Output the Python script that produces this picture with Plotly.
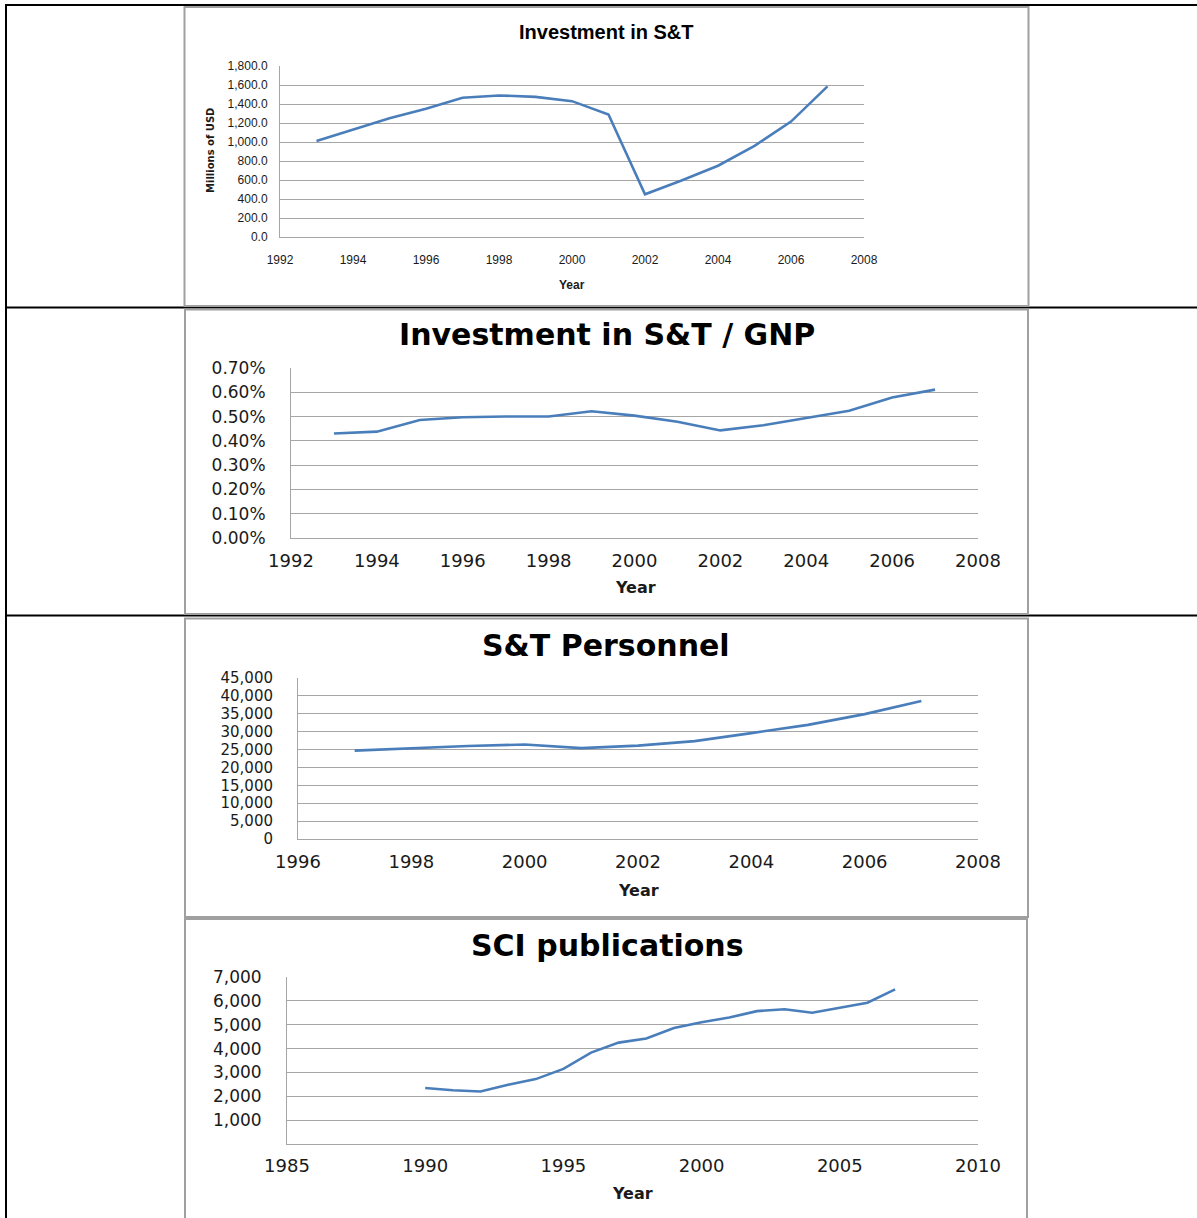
import plotly.graph_objects as go

# ---- data ----
invest_years = list(range(1993, 2008))
invest_musd = [1010, 1130, 1250, 1350, 1465, 1490, 1475, 1430, 1290, 450, 595, 750, 960, 1215, 1585]

gnp_years = list(range(1993, 2008))
gnp_share_pct = [0.430, 0.438, 0.486, 0.497, 0.500, 0.500, 0.522, 0.504, 0.479, 0.443, 0.464, 0.493, 0.524, 0.579, 0.611]

staff_years = list(range(1997, 2008))
staff_count = [24700, 25400, 26000, 26400, 25400, 26100, 27350, 29600, 31900, 34900, 38600]

sci_years = list(range(1990, 2008))
sci_papers = [2350, 2250, 2200, 2480, 2720, 3150, 3830, 4250, 4420, 4860, 5100, 5300, 5570, 5650, 5500, 5700, 5920, 6480]

chart_titles = ["Investment in S&T", "Investment in S&T / GNP", "S&T Personnel", "SCI publications"]
x_title = "Year"
y_title_first = "Millions of USD"

# ---- page geometry (pixels) ----
W, H = 1197, 1218
LINE_BLUE = "#4a7ebb"
GRID = "#a6a6a6"
BOX = "#a0a0a0"
WIDE_FONT = "DejaVu Sans"
NARROW_FONT = "Liberation Sans Narrow, Liberation Sans, Arial, sans-serif"


def px_x(x):
    return x / W


def px_y(y):
    return 1 - y / H


fig = go.Figure()

# plot areas: (left, right, top, bottom) in page pixels
areas = [
    (280, 864, 66, 237),
    (291, 978, 368, 538),
    (298, 978, 678, 839),
    (287, 978, 977, 1144),
]

series = [
    (invest_years, invest_musd),
    (gnp_years, gnp_share_pct),
    (staff_years, staff_count),
    (sci_years, sci_papers),
]

for i, (xs, ys) in enumerate(series):
    sfx = "" if i == 0 else str(i + 1)
    fig.add_trace(go.Scatter(
        x=xs, y=ys, mode="lines",
        line=dict(color=LINE_BLUE, width=2.6),
        xaxis="x" + sfx, yaxis="y" + sfx,
        showlegend=False, hoverinfo="x+y",
    ))

# per-chart axis settings; font sizes and label offsets tuned per panel
axis_specs = [
    dict(xr=[1992, 2008], xd=2, yr=[0, 1800], yd=200, yfmt=",.1f", ysuf="", yvals=None,
         xfs=12, yfs=12, xlen=12, ylen=9),
    dict(xr=[1992, 2008], xd=2, yr=[0, 0.7], yd=0.1, yfmt=".2f", ysuf="%", yvals=None,
         xfs=18, yfs=17, xlen=6, ylen=21),
    dict(xr=[1996, 2008], xd=2, yr=[0, 45000], yd=5000, yfmt=",d", ysuf="", yvals=None,
         xfs=18, yfs=15, xlen=6, ylen=21),
    dict(xr=[1985, 2010], xd=5, yr=[0, 7000], yd=1000, yfmt=",d", ysuf="",
         yvals=[1000, 2000, 3000, 4000, 5000, 6000, 7000],
         xfs=18, yfs=17, xlen=5, ylen=21),
]

layout = {}
for i, (spec, (l, r, t, b)) in enumerate(zip(axis_specs, areas)):
    sfx = "" if i == 0 else str(i + 1)
    fam = NARROW_FONT if i == 0 else WIDE_FONT
    layout["xaxis" + sfx] = dict(
        domain=[px_x(l), px_x(r)], anchor="y" + sfx,
        range=spec["xr"], dtick=spec["xd"], tick0=spec["xr"][0],
        showgrid=False, zeroline=False,
        showline=True, linecolor=GRID, linewidth=1,
        ticks="outside", ticklen=spec["xlen"], tickcolor="rgba(0,0,0,0)",
        tickfont=dict(family=fam, size=spec["xfs"], color="#1a1a1a"),
        fixedrange=True, automargin=False,
    )
    ya = dict(
        domain=[px_y(b), px_y(t)], anchor="x" + sfx,
        range=spec["yr"], tickformat=spec["yfmt"], ticksuffix=spec["ysuf"],
        showgrid=True, gridcolor=GRID, gridwidth=1, zeroline=False,
        showline=True, linecolor=GRID, linewidth=1,
        ticks="outside", ticklen=spec["ylen"], tickcolor="rgba(0,0,0,0)",
        tickfont=dict(family=fam, size=spec["yfs"], color="#1a1a1a"),
        fixedrange=True, automargin=False,
    )
    if spec["yvals"] is not None:
        ya["tickvals"] = spec["yvals"]
    else:
        ya["dtick"] = spec["yd"]
        ya["tick0"] = 0
    layout["yaxis" + sfx] = ya

shapes = []
# table rules (black)
for (x0, y0, x1, y1) in [(5, 5, W, 5), (6, 5, 6, H), (6, 307.5, W, 307.5), (6, 615.5, W, 615.5)]:
    shapes.append(dict(type="line", xref="paper", yref="paper",
                       x0=px_x(x0), y0=px_y(y0), x1=px_x(x1), y1=px_y(y1),
                       line=dict(color="#000000", width=2), layer="below"))
# chart frames (grey)
for (x0, y0, x1, y1) in [(184.5, 7, 1028.5, 306), (185, 309.5, 1028, 614),
                         (185, 618.5, 1028, 917), (185, 919, 1027, 1222)]:
    shapes.append(dict(type="rect", xref="paper", yref="paper",
                       x0=px_x(x0), y0=px_y(y1), x1=px_x(x1), y1=px_y(y0),
                       line=dict(color=BOX, width=2), fillcolor="white", layer="below"))

annotations = []
title_pos = [(606, 32), (607, 335), (606, 645), (607, 945)]
for i, (tx, ty) in enumerate(title_pos):
    f = dict(family=NARROW_FONT, size=20, color="#000000", weight="bold") if i == 0 else \
        dict(family=WIDE_FONT, size=30, color="#000000", weight="bold")
    annotations.append(dict(text=chart_titles[i], x=px_x(tx), y=px_y(ty), xref="paper", yref="paper",
                            showarrow=False, xanchor="center", yanchor="middle", font=f))

year_pos = [(572, 285), (635, 587), (638, 890), (632, 1193)]
for i, (tx, ty) in enumerate(year_pos):
    f = dict(family=NARROW_FONT, size=12, color="#1a1a1a", weight="bold") if i == 0 else \
        dict(family=WIDE_FONT, size=16, color="#1a1a1a", weight="bold")
    annotations.append(dict(text=x_title, x=px_x(tx), y=px_y(ty), xref="paper", yref="paper",
                            showarrow=False, xanchor="center", yanchor="middle", font=f))

annotations.append(dict(text=y_title_first, x=px_x(210), y=px_y(151), xref="paper", yref="paper",
                        showarrow=False, textangle=-90, xanchor="center", yanchor="middle",
                        font=dict(family=WIDE_FONT, size=10, color="#1a1a1a", weight="bold")))

fig.update_layout(
    width=W, height=H, autosize=False,
    margin=dict(l=0, r=0, t=0, b=0, pad=0, autoexpand=False),
    paper_bgcolor="white", plot_bgcolor="rgba(0,0,0,0)",
    shapes=shapes, annotations=annotations,
    **layout,
)

# page without default body margin so the figure fills the window exactly
fig.write_html(
    "out.html", include_plotlyjs=True, config={"displayModeBar": False},
    post_script="document.body.style.margin='0';document.body.style.overflow='hidden';"
                "document.documentElement.style.overflow='hidden';",
)
